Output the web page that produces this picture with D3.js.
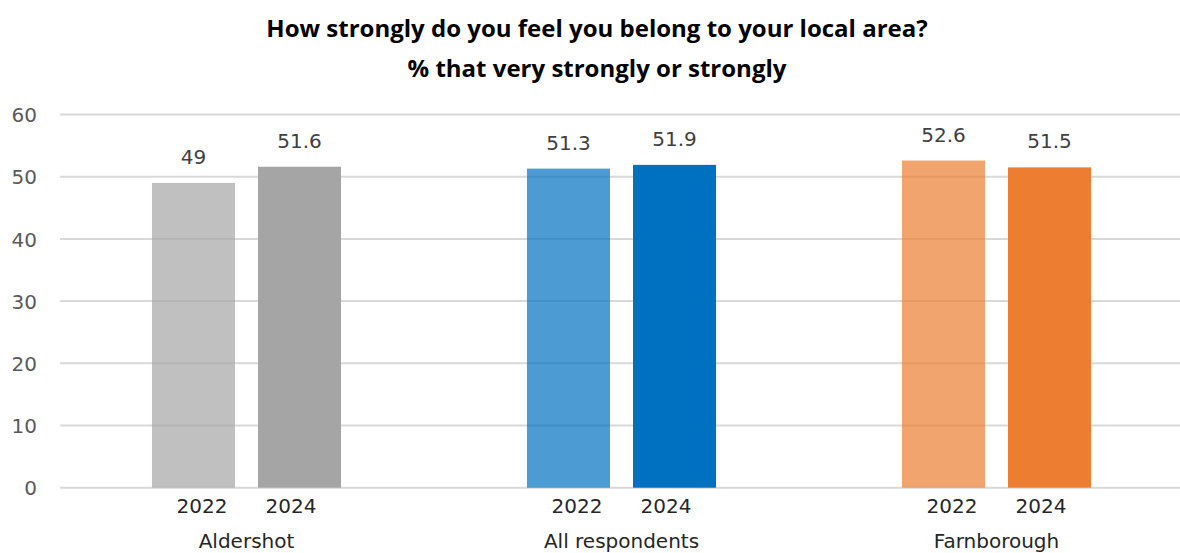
<!DOCTYPE html>
<html>
<head>
<meta charset="utf-8">
<script src="https://cdn.jsdelivr.net/npm/d3@7"></script>
<style>
  html, body { margin: 0; padding: 0; background: #fff; }
  svg { display: block; }
</style>
</head>
<body>
<svg id="chart" width="1180" height="553"></svg>
<script>
const titleLines = ["How strongly do you feel you belong to your local area?", "% that very strongly or strongly"];
const groups = ["Aldershot", "All respondents", "Farnborough"];
const years = ["2022", "2024"];
const values2022 = [49, 51.3, 52.6];
const values2024 = [51.6, 51.9, 51.5];
const groupColors = ["#A5A5A5", "#0070C0", "#ED7D31"];
const yearOpacity = [0.7, 1];
const yTicks = [0, 10, 20, 30, 40, 50, 60];

const svg = d3.select("#chart");
const W = 1180, H = 553;

const y = d3.scaleLinear().domain([0, 60]).range([487.7, 114.5]);
const x0 = d3.scaleBand().domain(groups).range([59, 1184]).padding(0);
const x1 = d3.scaleBand().domain(years).range([0, x0.bandwidth()])
  .paddingInner(0.217).paddingOuter(0.877);
const xLab = d3.scaleBand().domain(years).range([0, x0.bandwidth()])
  .paddingInner(0).paddingOuter(1.107);

// y axis labels
const yAxis = d3.axisLeft(y).tickValues(yTicks).tickSize(0).tickPadding(0).tickFormat(d3.format("d"));
const gAxis = svg.append("g").attr("transform", "translate(37,0)").call(yAxis);
gAxis.select(".domain").remove();
gAxis.selectAll("text").attr("font-family", "DejaVu Sans").attr("font-size", 20)
  .attr("fill", "#595959").attr("dy", "0.36em");

// gridlines
svg.append("g").selectAll("line").data(yTicks).join("line")
  .attr("x1", 60).attr("x2", W)
  .attr("y1", d => y(d)).attr("y2", d => y(d))
  .attr("stroke", "#D9D9D9").attr("stroke-width", 2);

// data rows
const rows = [];
groups.forEach((g, gi) => {
  rows.push({group: g, gi, year: years[0], yi: 0, value: values2022[gi]});
  rows.push({group: g, gi, year: years[1], yi: 1, value: values2024[gi]});
});

svg.append("g").selectAll("rect").data(rows).join("rect")
  .attr("x", d => x0(d.group) + x1(d.year))
  .attr("width", x1.bandwidth())
  .attr("y", d => y(d.value))
  .attr("height", d => y(0) - y(d.value))
  .attr("fill", d => groupColors[d.gi])
  .attr("fill-opacity", d => yearOpacity[d.yi]);

svg.append("g").selectAll("text").data(rows).join("text")
  .attr("x", d => x0(d.group) + x1(d.year) + x1.bandwidth() / 2)
  .attr("y", d => y(d.value) - 19)
  .attr("text-anchor", "middle")
  .attr("font-family", "DejaVu Sans").attr("font-size", 20)
  .attr("fill", "#404040")
  .text(d => d.value);

// year labels
svg.append("g").selectAll("text").data(rows).join("text")
  .attr("x", d => x0(d.group) + xLab(d.year) + xLab.bandwidth() / 2)
  .attr("y", 513)
  .attr("text-anchor", "middle")
  .attr("font-family", "DejaVu Sans").attr("font-size", 20)
  .attr("fill", "#262626")
  .text(d => d.year);

// group labels
svg.append("g").selectAll("text").data(groups).join("text")
  .attr("x", d => x0(d) + x0.bandwidth() / 2)
  .attr("y", 548)
  .attr("text-anchor", "middle")
  .attr("font-family", "DejaVu Sans").attr("font-size", 20)
  .attr("fill", "#262626")
  .text(d => d);

// title
const title = svg.append("g");
const tl = title.selectAll("text").data(titleLines).join("text")
  .attr("x", 597)
  .attr("y", (d, i) => 37 + i * 40)
  .attr("text-anchor", "middle")
  .attr("font-family", "Open Sans").attr("font-weight", "bold").attr("font-size", 20)
  .attr("fill", "#000")
  .text(d => d);
// fit first line to reference width (~680px)
const w0 = tl.node().getComputedTextLength();
const fs = Math.max(16, Math.min(24, 20 * 680 / w0));
tl.attr("font-size", fs);
</script>
</body>
</html>
